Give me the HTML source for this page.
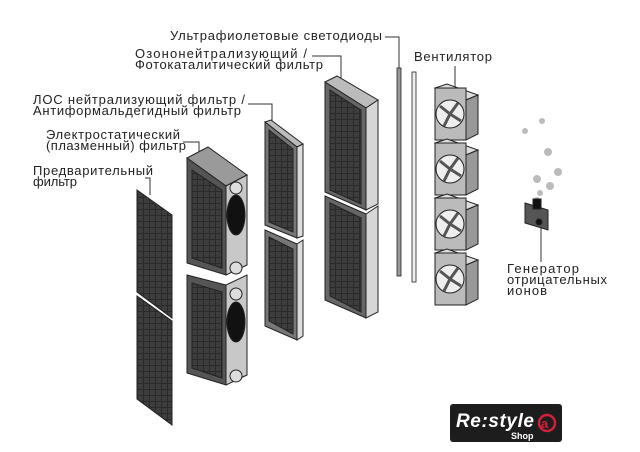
<!DOCTYPE html>
<html><head><meta charset="utf-8"><style>
html,body{margin:0;padding:0;background:#fff;}
svg{display:block;}
text{font-family:"Liberation Sans",sans-serif;font-size:13px;fill:#222;}
</style></head><body>
<svg width="640" height="452" viewBox="0 0 640 452" xmlns="http://www.w3.org/2000/svg">
<defs>
<pattern id="grid" width="6" height="6" patternUnits="userSpaceOnUse">
<rect width="6" height="6" fill="#2a2a2a"/><rect x="0" y="0" width="5" height="5" fill="#3d3d3d"/>
</pattern>
</defs>
<!-- labels -->
<g stroke="#333" stroke-width="1" fill="none">
<polyline points="385,37 399,37 399,68"/>
<polyline points="312,56 341,56 341,80"/>
<polyline points="248,104 272,104 272,122"/>
<polyline points="183,142 199,142 199,152"/>
<polyline points="145,178 150,178 150,195"/>
<polyline points="455,66 455,100"/>
<polyline points="541,228 541,262"/>
</g>
<text x="170" y="40" textLength="212">Ультрафиолетовые светодиоды</text>
<text x="135" y="58" textLength="172">Озононейтрализующий /</text>
<text x="135" y="69" textLength="188">Фотокаталитический фильтр</text>
<text x="33" y="104" textLength="212">ЛОС нейтрализующий фильтр /</text>
<text x="33" y="115" textLength="208">Антиформальдегидный фильтр</text>
<text x="46" y="139" textLength="134">Электростатический</text>
<text x="46" y="150" textLength="140">(плазменный) фильтр</text>
<text x="33" y="175" textLength="120">Предварительный</text>
<text x="33" y="186" textLength="44">фильтр</text>
<text x="414" y="61" textLength="78">Вентилятор</text>
<text x="507" y="273" textLength="72">Генератор</text>
<text x="507" y="284" textLength="100">отрицательных</text>
<text x="507" y="295" textLength="40">ионов</text>

<!-- prefilter -->
<g stroke="#222" stroke-width="1">
<polygon points="137,190 172,215 172,318 137,292" fill="url(#grid)"/>
<polygon points="137,296 172,321 172,425 137,399" fill="url(#grid)"/>
</g>

<!-- electrostatic box -->
<g stroke="#222" stroke-width="1">
<polygon points="187,158 208,147 247,175 226,186" fill="#9a9a9a"/>
<polygon points="187,158 226,186 226,275 187,263" fill="#555"/>
<polygon points="192,170 222,190 222,268 192,258" fill="url(#grid)"/>
<polygon points="226,186 247,175 247,265 226,275" fill="#c8c8c8"/>
<polygon points="187,275 226,285 226,385 187,373" fill="#555"/>
<polygon points="192,283 222,292 222,378 192,368" fill="url(#grid)"/>
<polygon points="226,285 247,275 247,375 226,385" fill="#c8c8c8"/>
<ellipse cx="236" cy="215" rx="9" ry="20" fill="#111"/>
<ellipse cx="236" cy="322" rx="9" ry="20" fill="#111"/>
<circle cx="236" cy="188" r="6" fill="#ddd"/>
<circle cx="236" cy="268" r="6" fill="#ddd"/>
<circle cx="236" cy="294" r="6" fill="#ddd"/>
<circle cx="236" cy="376" r="6" fill="#ddd"/>
</g>

<!-- LOS filter -->
<g stroke="#222" stroke-width="1">
<polygon points="265,122 271,120 303,144 297,147" fill="#bbb"/>
<polygon points="265,122 297,147 297,238 265,225" fill="#777"/>
<polygon points="269,130 293,149 293,232 269,222" fill="url(#grid)"/>
<polygon points="297,147 303,144 303,236 297,238" fill="#ddd"/>
<polygon points="265,230 297,244 297,340 265,326" fill="#777"/>
<polygon points="269,237 293,249 293,334 269,321" fill="url(#grid)"/>
<polygon points="297,244 303,240 303,336 297,340" fill="#ddd"/>
</g>

<!-- ozone filter -->
<g stroke="#222" stroke-width="1">
<polygon points="325,82 337,76 378,100 366,108" fill="#bbb"/>
<polygon points="325,82 366,108 366,210 325,192" fill="#666"/>
<polygon points="330,90 361,110 361,204 330,190" fill="url(#grid)"/>
<polygon points="366,108 378,100 378,204 366,210" fill="#d6d6d6"/>
<polygon points="325,196 366,214 366,318 325,300" fill="#666"/>
<polygon points="330,203 361,218 361,312 330,296" fill="url(#grid)"/>
<polygon points="366,214 378,206 378,312 366,318" fill="#d6d6d6"/>
</g>

<!-- UV rods -->
<g stroke="#222" stroke-width="0.8">
<rect x="397" y="68" width="4" height="208" fill="#999"/>
<rect x="412" y="72" width="4" height="210" fill="#eee"/>
</g>

<!-- fans -->
<g stroke="#222" stroke-width="1">
<g id="fan">
<polygon points="435,88 447,84 478,95 466,100" fill="#ddd"/>
<rect x="435" y="88" width="31" height="52" fill="#bbb"/>
<circle cx="450" cy="114" r="14" fill="#eee"/>
<path d="M450,114 L440,106 M450,114 L458,103 M450,114 L461,121 M450,114 L444,126" stroke="#555" stroke-width="3"/>
<polygon points="466,100 478,95 478,134 466,140" fill="#999"/>
</g>
<use href="#fan" y="55"/>
<use href="#fan" y="110"/>
<use href="#fan" y="165"/>
</g>

<!-- ions -->
<g fill="#bbb">
<circle cx="525" cy="131" r="3"/><circle cx="542" cy="121" r="3"/>
<circle cx="548" cy="152" r="4"/><circle cx="558" cy="172" r="4"/>
<circle cx="537" cy="179" r="4"/><circle cx="550" cy="186" r="4"/>
<circle cx="540" cy="193" r="3"/><circle cx="537" cy="200" r="3"/>
</g>
<g stroke="#222">
<polygon points="525,203 548,210 548,230 525,223" fill="#555"/>
<rect x="533" y="199" width="8" height="10" fill="#111"/>
<circle cx="539" cy="222" r="3" fill="#111"/>
</g>

<!-- logo -->
<rect x="450" y="404" width="112" height="38" rx="3" fill="#1d1d1d"/>
<text x="456" y="427" style="font-size:19px;font-style:italic;font-weight:bold;fill:#fff" textLength="78">Re:style</text>
<text x="511" y="439" style="font-size:9px;font-weight:bold;fill:#fff">Shop</text>
<circle cx="547" cy="423" r="8" fill="none" stroke="#d0203a" stroke-width="2.5"/>
<text x="541" y="428" style="font-size:13px;font-weight:bold;fill:#d0203a">a</text>
</svg>
</body></html>
